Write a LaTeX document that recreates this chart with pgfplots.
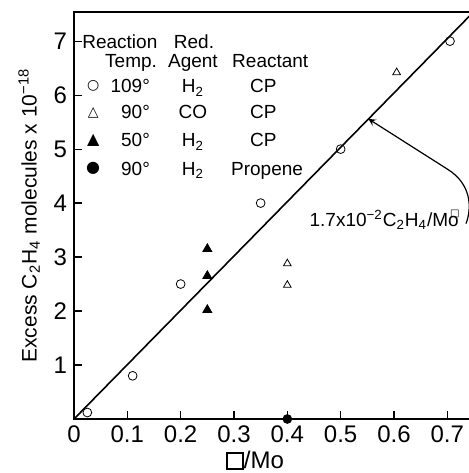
\documentclass[border=0pt]{standalone}
\usepackage{pgfplots}
\pgfplotsset{compat=1.18}
\usepackage{fontspec}
\setmainfont{Liberation Sans}
\newfontfamily\sym{DejaVu Sans}
\newcommand{\vac}{{\setlength\fboxsep{0pt}\setlength\fboxrule{0.9pt}\fbox{\rule{0pt}{7pt}\hspace{7pt}}}}

\begin{document}
\begin{tikzpicture}
\begin{axis}[
    name=ax,
    scale only axis,
    width=200pt, height=203.5pt,
    xmin=0, xmax=0.75, ymin=0, ymax=7.54,
    xtick={0,0.1,0.2,0.3,0.4,0.5,0.6,0.7},
    xticklabels={0,0.1,0.2,0.3,0.4,0.5,0.6,0.7},
    ytick={1,2,3,4,5,6,7},
    tick align=inside,
    xtick pos=left, ytick pos=left,
    major tick length=4pt,
    tick style={black, line width=0.6pt},
    axis line style={line width=0.8pt},
    /pgf/number format/assume math mode=true,
    ticklabel style={font=\fontsize{12}{14}\selectfont},
    xlabel={\vac/Mo},
    x label style={at={(ticklabel cs:0.453)}, yshift=3pt, font=\fontsize{12}{14}\selectfont},
    ylabel={Excess C\textsubscript{2}H\textsubscript{4} molecules x 10\textsuperscript{−18}},
    y label style={font=\fontsize{10.5}{12}\selectfont},
    clip=false,
]
% fitted line
\addplot[black, line width=0.8pt] coordinates {(0,0) (0.75,7.55)};
% 109 deg, H2, CP
\addplot[only marks, mark=o, mark size=2.2pt, black] coordinates {
    (0.025,0.12) (0.11,0.8) (0.2,2.5) (0.35,4.0) (0.5,5.0) (0.705,7.0)};
% 90 deg, CO, CP
\addplot[only marks, mark=triangle, mark size=2.2pt, black] coordinates {
    (0.4,2.88) (0.4,2.48) (0.605,6.42)};
% 50 deg, H2, CP
\addplot[only marks, mark=triangle*, mark size=2.6pt, black] coordinates {
    (0.25,3.15) (0.25,2.65) (0.25,2.02)};
% 90 deg, H2, propene
\addplot[only marks, mark=*, mark size=2.2pt, black] coordinates {(0.4,0)};

% key
\begin{scope}[every node/.style={font=\fontsize{9.5}{11}\selectfont, inner sep=0pt, anchor=base}]
\node at (axis cs:0.086,6.87) {Reaction};
\node at (axis cs:0.225,6.87) {Red.};
\node at (axis cs:0.107,6.52) {Temp.};
\node at (axis cs:0.223,6.52) {Agent};
\node at (axis cs:0.368,6.52) {Reactant};
\node[anchor=center] at (axis cs:0.036,6.17) {\sym\fontsize{7}{7}\selectfont ○};
\node[anchor=center] at (axis cs:0.036,5.68) {\sym\fontsize{7}{7}\selectfont △};
\node[anchor=center] at (axis cs:0.036,5.17) {\sym\fontsize{8}{8}\selectfont ▲};
\node[anchor=center] at (axis cs:0.036,4.65) {\sym\fontsize{8}{8}\selectfont ●};
\node[anchor=base east] at (axis cs:0.143,6.04) {109°};
\node[anchor=base east] at (axis cs:0.143,5.56) {90°};
\node[anchor=base east] at (axis cs:0.143,5.04) {50°};
\node[anchor=base east] at (axis cs:0.143,4.52) {90°};
\node at (axis cs:0.223,6.04) {H\textsubscript{2}};
\node at (axis cs:0.223,5.56) {CO};
\node at (axis cs:0.223,5.04) {H\textsubscript{2}};
\node at (axis cs:0.223,4.52) {H\textsubscript{2}};
\node at (axis cs:0.355,6.04) {CP};
\node at (axis cs:0.355,5.56) {CP};
\node at (axis cs:0.355,5.04) {CP};
\node at (axis cs:0.362,4.52) {Propene};
\end{scope}

% slope annotation
\node[anchor=west, inner sep=0pt, font=\fontsize{9.5}{11}\selectfont] at (axis cs:0.441,3.69)
    {1.7x10\textsuperscript{−2}C\textsubscript{2}H\textsubscript{4}/M\rlap{\raisebox{1.05ex}{\hspace{1pt}\fontsize{5}{5}\sym □}}o};
\draw[-stealth, line width=0.6pt] (axis cs:0.735,3.62) .. controls (axis cs:0.746,3.9) and (axis cs:0.746,4.35) .. (axis cs:0.70,4.63) -- (axis cs:0.552,5.56);
\end{axis}
\pgfresetboundingbox
\path[use as bounding box] ([shift={(-37pt,-27pt)}]ax.south west) rectangle ([shift={(197.5pt,209.5pt)}]ax.south west);
\end{tikzpicture}
\end{document}
